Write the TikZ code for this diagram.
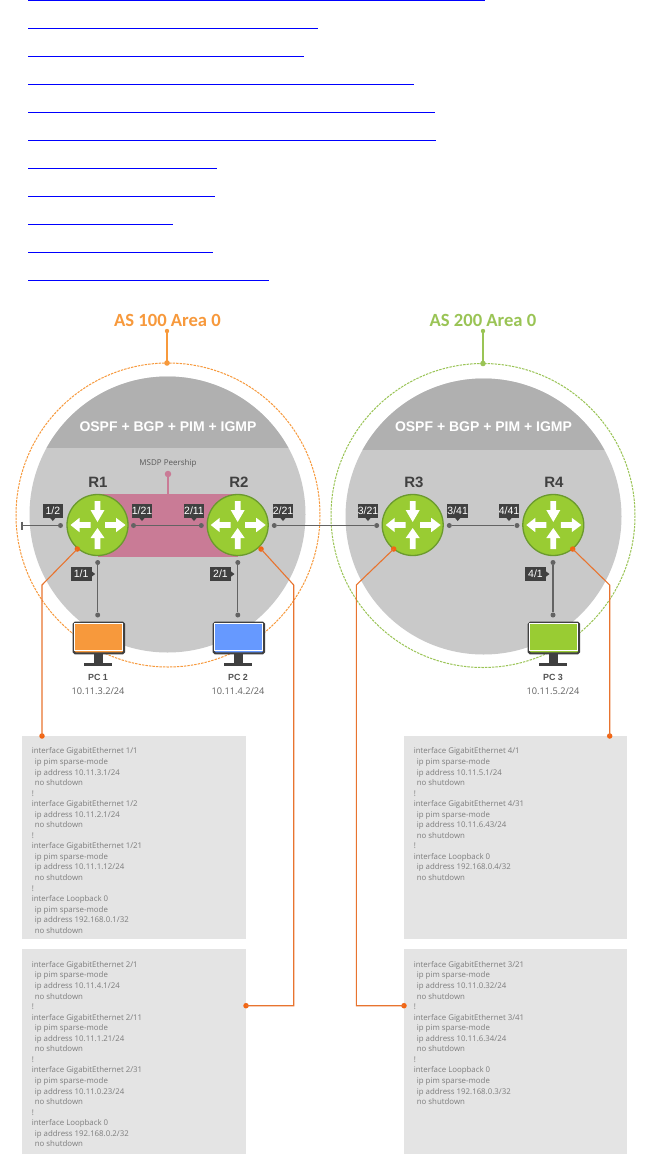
\documentclass[tikz,border=0pt]{standalone}
\usepackage{fontspec}
\setmainfont{Open Sans}
\newfontfamily\boldf{Liberation Sans}
\newfontfamily\titlef{Carlito}
\usetikzlibrary{calc}
\definecolor{orangeA}{HTML}{F7993C}
\definecolor{orangeB}{HTML}{E8742F}
\definecolor{orangeD}{HTML}{F26513}
\definecolor{greenA}{HTML}{9AC455}
\definecolor{routerG}{HTML}{99CC33}
\definecolor{routerE}{HTML}{6B9A2E}
\definecolor{capG}{HTML}{B0B0B0}
\definecolor{discG}{HTML}{C9C9C9}
\definecolor{boxG}{HTML}{E4E4E4}
\definecolor{pinkM}{HTML}{C97B96}
\definecolor{darkT}{HTML}{404040}
\definecolor{lineG}{HTML}{636363}
\definecolor{cfgT}{HTML}{7D7D7D}
\definecolor{blueS}{HTML}{6699FF}
\newcommand{\pxfont}[2]{\fontsize{#1pt}{#2pt}\selectfont}
\newcommand{\ind}{\hspace*{3pt}}
\tikzset{
 x=1pt,y=-1pt,
 cfgtext/.style={anchor=north west,inner sep=0pt,align=left,text=cfgT,font=\pxfont{7.85}{10.55}},
 ring/.style={dash pattern=on 2.4pt off 1.1pt,line width=1pt},
 areatitle/.style={font=\titlef\bfseries\pxfont{18.6}{20}},
 rname/.style={text=darkT,font=\boldf\bfseries\pxfont{15}{16}},
 ospf/.style={text=white,font=\boldf\bfseries\pxfont{14}{15}},
 portlab/.style={fill=darkT,text=white,inner sep=0pt,minimum width=20pt,minimum height=14pt,font=\boldf\pxfont{10.5}{11}},
 pcname/.style={text=darkT!90,font=\boldf\bfseries\pxfont{8.9}{10}},
 pcip/.style={text=black!62,font=\pxfont{9.2}{10}},
 portdot/.style={circle,fill=lineG,inner sep=0pt,minimum size=5pt},
 wire/.style={draw=lineG,line width=1.3pt},
 tie/.style={draw=orangeB,line width=1.1pt},
 tiedot/.style={circle,fill=orangeD,inner sep=0pt,minimum size=5.5pt},
 linkline/.style={draw=blue,line width=1pt},
}
% router: name, x, y
\newcommand{\router}[3]{%
 \node[circle,fill=routerG,draw=routerE,line width=1.3pt,minimum size=61pt,inner sep=0pt] (#1) at (#2,#3) {};
 \begin{scope}[shift={(#2,#3)}]
  % top arrow points in, bottom arrow points in
  \fill[white] (-2.9,-24) -- (2.9,-24) -- (2.9,-15) -- (7,-15) -- (0,-3) -- (-7,-15) -- (-2.9,-15) -- cycle;
  \fill[white] (-2.9,24) -- (2.9,24) -- (2.9,13) -- (7,13) -- (0,3) -- (-7,13) -- (-2.9,13) -- cycle;
  % left and right arrows point out
  \fill[white] (-7,-2.9) -- (-18,-2.9) -- (-18,-7.2) -- (-27,0) -- (-18,7.2) -- (-18,2.9) -- (-7,2.9) -- cycle;
  \fill[white] (7.5,-2.9) -- (18.5,-2.9) -- (18.5,-7.2) -- (28,0) -- (18.5,7.2) -- (18.5,2.9) -- (7.5,2.9) -- cycle;
 \end{scope}}
% monitor: name, left x, screen colour
\newcommand{\monitor}[3]{%
 \fill[darkT] ($(#2,653)+(21.5,0)$) rectangle ++(9,10);
 \fill[darkT] ($(#2,662.7)+(11.5,0)$) rectangle ++(28.5,3);
 \node[anchor=north west,fill=#3,draw=darkT,line width=2pt,rounded corners=1.5pt,minimum width=50.4pt,minimum height=30.6pt,inner sep=0pt] (#1) at (#2+0.7,621.7) {};
 \draw[white,line width=0.5pt] (#2+2,623) rectangle (#2+49.8,650.3);}
% port label, pointer down
\newcommand{\plabd}[4]{%
 \fill[darkT] (#2-3,#3+6.5) -- (#2+3,#3+6.5) -- (#2,#3+10) -- cycle;
 \node[portlab] (#1) at (#2,#3) {#4};}
% port label, pointer right
\newcommand{\plabr}[4]{%
 \fill[darkT] (#2+10,#3-3) -- (#2+10,#3+3) -- (#2+14,#3) -- cycle;
 \node[portlab,minimum width=21pt] (#1) at (#2,#3) {#4};}
\begin{document}
\begin{tikzpicture}
\useasboundingbox (0,0) rectangle (649,1170);
\fill[white] (0,0) rectangle (649,1170);
% top links
\foreach \n/\yy/\xx in {a/0.4/485,b/28.3/317.7,c/56.3/303.7,d/84.3/413.7,e/112.3/435,f/140.3/435.7,g/168.3/216.7,h/196.3/215,i/224.3/173,j/252.3/213,k/280.3/269}{
 \coordinate (ls\n) at (28.3,\yy);
 \coordinate (le\n) at (\xx,\yy);
 \draw[linkline] (ls\n) -- (le\n);
}
% discs
\fill[discG] (167.5,514.5) circle[radius=138];
\begin{scope}
 \clip (0,300) rectangle (330,447);
 \fill[capG] (167.5,514.5) circle[radius=138];
\end{scope}
\fill[discG] (483.5,516.5) circle[radius=138];
\begin{scope}
 \clip (330,300) rectangle (649,449);
 \fill[capG] (483.5,516.5) circle[radius=138];
\end{scope}
% rings
\draw[ring,orangeA] (168,515) circle[radius=152];
\draw[ring,greenA] (483,515.5) circle[radius=152];
% titles
\node[areatitle,text=orangeA] (t1) at (167.5,320) {AS 100 Area 0};
\node[areatitle,text=greenA] (t2) at (483,320) {AS 200 Area 0};
\coordinate (t1a) at (167,331); \coordinate (t1b) at (167,363);
\coordinate (t2a) at (483,331); \coordinate (t2b) at (483,363.5);
\draw[orangeA,line width=1.1pt] (t1a) -- (t1b);
\draw[greenA,line width=1.1pt] (t2a) -- (t2b);
\fill[orangeA] (t1a) circle[radius=2.2] (t1b) circle[radius=2.8];
\fill[greenA] (t2a) circle[radius=2.2] (t2b) circle[radius=2.8];
% ospf
\node[ospf] (o1) at (168,427) {OSPF + BGP + PIM + IGMP};
\node[ospf] (o2) at (483.5,427) {OSPF + BGP + PIM + IGMP};
% msdp
\fill[pinkM] (97.5,494) rectangle (238,557);
\node[circle,fill=pinkM,inner sep=0pt,minimum size=6.5pt] (mp) at (168,474) {};
\coordinate (mpb) at (168,494);
\draw[draw=pinkM,line width=1.2pt] (mp) -- (mpb);
\node[text=black!65,font=\pxfont{8}{9}] (mt) at (168,463.7) {MSDP Peership};
% routers
\router{R1}{97.5}{525}
\router{R2}{237.7}{525}
\router{R3}{412.7}{525}
\router{R4}{553.3}{525}
\node[rname] at (98,482) {R1};
\node[rname] at (239,482) {R2};
\node[rname] at (414,482.5) {R3};
\node[rname] at (554,482.5) {R4};
% port dots
\node[portdot] (p12) at (60.5,525.5) {};
\coordinate (stub) at (22,525.5);
\node[portdot] (p121) at (133.5,525.5) {};
\node[portdot] (p211) at (201.3,525.5) {};
\node[portdot] (p221) at (274.3,525.5) {};
\node[portdot] (p321) at (376.7,525.5) {};
\node[portdot] (p341) at (449.3,525.5) {};
\node[portdot] (p441) at (517,525.5) {};
\node[portdot] (p11) at (97.7,562.5) {};
\node[portdot] (p21) at (237.8,562.5) {};
\node[portdot] (p41) at (553,562.5) {};
\node[portdot] (c1) at (97.7,615) {};
\node[portdot] (c2) at (237.8,615) {};
\node[portdot] (c3) at (553,615) {};
\draw[wire] (p12) -- (stub);
\draw[wire] ($(stub)+(0,-4)$) -- ($(stub)+(0,4)$);
\draw[wire] (p121) -- (p211);
\draw[wire] (p221) -- (p321);
\draw[wire] (p341) -- (p441);
\draw[wire] (p11) -- (c1);
\draw[wire] (p21) -- (c2);
\draw[wire] (p41) -- (c3);
% port labels
\plabd{l12}{52.8}{511}{1/2}
\plabd{l121}{142}{511}{1/21}
\plabd{l211}{194}{511}{2/11}
\plabd{l221}{283}{511}{2/21}
\plabd{l321}{368}{511}{3/21}
\plabd{l341}{457.7}{511}{3/41}
\plabd{l441}{509}{511}{4/41}
\plabr{l11}{81.2}{574}{1/1}
\plabr{l21}{220.5}{574}{2/1}
\plabr{l41}{535.5}{574}{4/1}
% monitors
\monitor{m1}{72}{orangeA}
\monitor{m2}{212}{blueS}
\monitor{m3}{527}{routerG}
\node[pcname] at (98,677.5) {PC 1};
\node[pcname] at (238,677.5) {PC 2};
\node[pcname] at (553,677.5) {PC 3};
\node[pcip] at (98,691) {10.11.3.2/24};
\node[pcip] at (238,691) {10.11.4.2/24};
\node[pcip] at (553,691) {10.11.5.2/24};
% config boxes
\fill[boxG] (22.3,736) rectangle (246,939.3);
\fill[boxG] (22.3,949) rectangle (246,1154.3);
\fill[boxG] (404,736) rectangle (627.3,939.3);
\fill[boxG] (404,949) rectangle (627.3,1154.3);
\node[cfgtext] (cA) at (31.7,747.7) {interface GigabitEthernet 1/1\\
\ind ip pim sparse-mode\\
\ind ip address 10.11.3.1/24\\
\ind no shutdown\\
!\\
interface GigabitEthernet 1/2\\
\ind ip address 10.11.2.1/24\\
\ind no shutdown\\
!\\
interface GigabitEthernet 1/21\\
\ind ip pim sparse-mode\\
\ind ip address 10.11.1.12/24\\
\ind no shutdown\\
!\\
interface Loopback 0\\
\ind ip pim sparse-mode\\
\ind ip address 192.168.0.1/32\\
\ind no shutdown};
\node[cfgtext] (cB) at (31.7,961.2) {interface GigabitEthernet 2/1\\
\ind ip pim sparse-mode\\
\ind ip address 10.11.4.1/24\\
\ind no shutdown\\
!\\
interface GigabitEthernet 2/11\\
\ind ip pim sparse-mode\\
\ind ip address 10.11.1.21/24\\
\ind no shutdown\\
!\\
interface GigabitEthernet 2/31\\
\ind ip pim sparse-mode\\
\ind ip address 10.11.0.23/24\\
\ind no shutdown\\
!\\
interface Loopback 0\\
\ind ip address 192.168.0.2/32\\
\ind no shutdown};
\node[cfgtext] (cC) at (413.7,747.7) {interface GigabitEthernet 4/1\\
\ind ip pim sparse-mode\\
\ind ip address 10.11.5.1/24\\
\ind no shutdown\\
!\\
interface GigabitEthernet 4/31\\
\ind ip pim sparse-mode\\
\ind ip address 10.11.6.43/24\\
\ind no shutdown\\
!\\
interface Loopback 0\\
\ind ip address 192.168.0.4/32\\
\ind no shutdown};
\node[cfgtext] (cD) at (413.7,961.2) {interface GigabitEthernet 3/21\\
\ind ip pim sparse-mode\\
\ind ip address 10.11.0.32/24\\
\ind no shutdown\\
!\\
interface GigabitEthernet 3/41\\
\ind ip pim sparse-mode\\
\ind ip address 10.11.6.34/24\\
\ind no shutdown\\
!\\
interface Loopback 0\\
\ind ip pim sparse-mode\\
\ind ip address 192.168.0.3/32\\
\ind no shutdown};
% orange ties
\node[tiedot] (d1) at (77.3,549) {};
\node[tiedot] (d2) at (261,549) {};
\node[tiedot] (d3) at (393.7,549) {};
\node[tiedot] (d4) at (572.7,549) {};
\node[tiedot] (e1) at (42,736) {};
\node[tiedot] (e2) at (246,1005.7) {};
\node[tiedot] (e3) at (404,1005.7) {};
\node[tiedot] (e4) at (609.7,736) {};
\draw[tie] (d1.center) -- (42,585) -- (e1.center);
\draw[tie] (d2.center) -- (293.7,585) -- (293.7,1005.7) -- (e2.center);
\draw[tie] (d3.center) -- (356.3,585) -- (356.3,1005.7) -- (e3.center);
\draw[tie] (d4.center) -- (609.7,585) -- (e4.center);
\end{tikzpicture}
\end{document}
